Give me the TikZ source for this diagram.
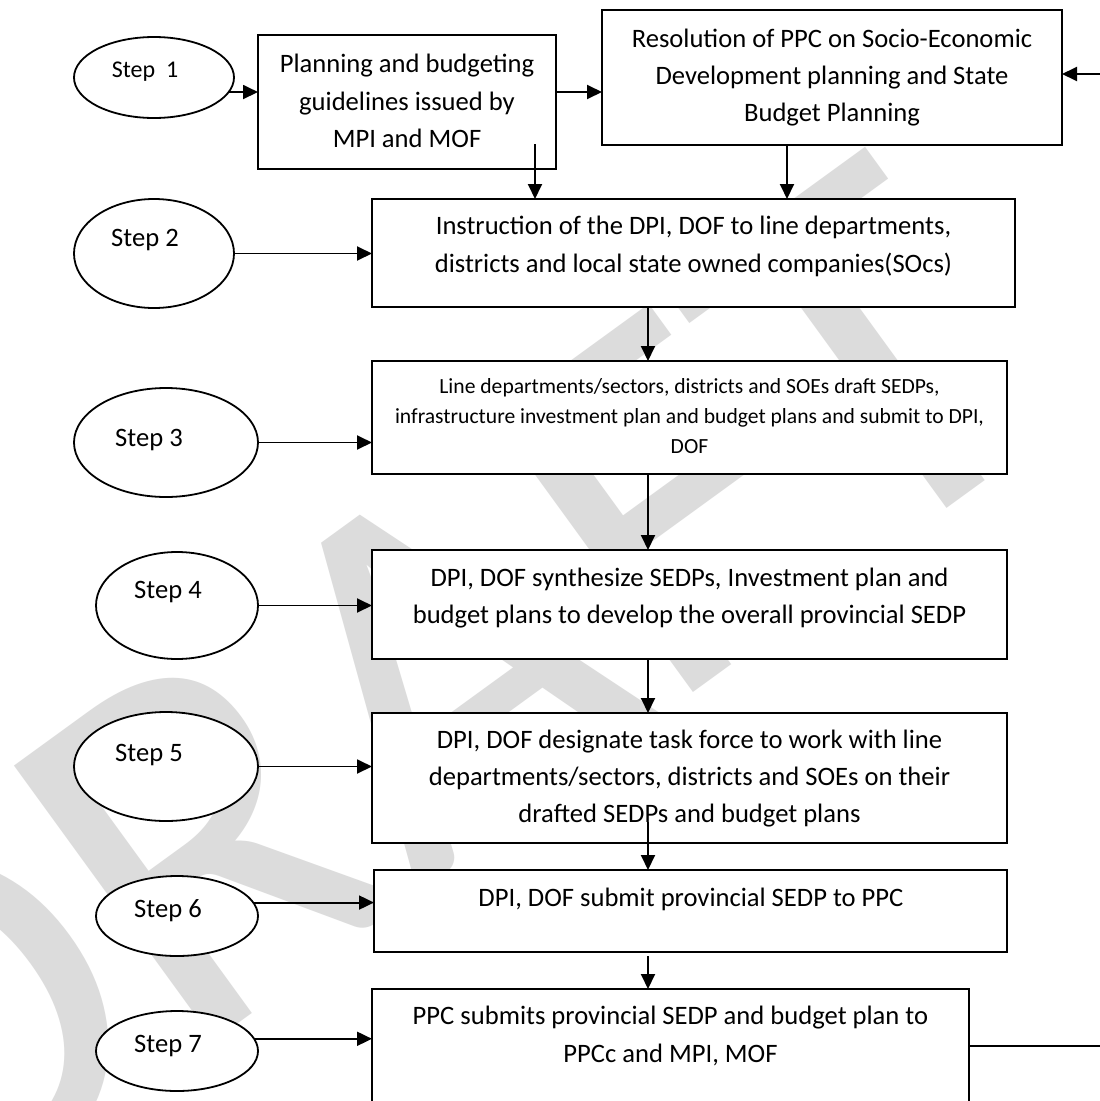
\documentclass[tikz,border=0pt]{standalone}
\usepackage{fontspec}
\setmainfont{Carlito}
\usetikzlibrary{arrows.meta,shapes.geometric,calc}
\definecolor{wmgray}{RGB}{220,220,220}
\begin{document}
\begin{tikzpicture}[x=1pt,y=-1pt,
  box/.style={draw, fill=white, line width=2pt, inner sep=0pt, outer sep=0pt},
  ell/.style={ellipse, draw, fill=white, line width=1.8pt, inner sep=0pt, outer sep=0pt},
  txt/.style={align=center, inner sep=0pt, font=\fontsize{26.6}{37.4}\selectfont},
  small/.style={align=center, inner sep=0pt, font=\fontsize{21.6}{30}\selectfont},
  steptxt/.style={inner sep=0pt, font=\fontsize{26.6}{32}\selectfont},
  arr/.style={line width=1.9pt, -{Triangle[length=15pt,width=14pt]}}
]
\useasboundingbox (0,0) rectangle (1100,1101);
\fill[white] (0,0) rectangle (1100,1101);
\clip (0,0) rectangle (1100,1101);

% background watermark
\node[rotate=36, anchor=base west, text=wmgray, inner sep=0pt, font=\fontsize{530}{530}\selectfont] (wm) at (-80,1255) {DRAFT};

% process boxes
\node[box, minimum width=298pt, minimum height=134pt] (b1) at (407,102) {};
\node[box, minimum width=460pt, minimum height=135pt] (res) at (832,77.5) {};
\node[box, minimum width=643pt, minimum height=108pt] (b2) at (693.5,253) {};
\node[box, minimum width=635pt, minimum height=113pt] (b3) at (689.5,417.5) {};
\node[box, minimum width=635pt, minimum height=109pt] (b4) at (689.5,604.5) {};
\node[box, minimum width=635pt, minimum height=130pt] (b5) at (689.5,778) {};
\node[box, minimum width=633pt, minimum height=82pt] (b6) at (690.5,911) {};
\node[box, minimum width=597pt, minimum height=136pt] (b7) at (670.5,1057) {};

% box texts
\node[txt] (b1t) at (407,101) {Planning and budgeting\\guidelines issued by\\MPI and MOF};
\node[txt] (rest) at (832,77.5) {Resolution of PPC on Socio-Economic\\Development planning and State\\Budget Planning};
\node[txt] (b2t) at (693.5,246.5) {Instruction of the DPI, DOF to line departments,\\districts and local state owned companies(SOcs)};
\node[small] (b3t) at (689.5,416) {Line departments/sectors, districts and SOEs draft SEDPs,\\infrastructure investment plan and budget plans and submit to DPI,\\DOF};
\node[txt] (b4t) at (689.5,598) {DPI, DOF synthesize SEDPs, Investment plan and\\budget plans to develop the overall provincial SEDP};
\node[txt] (b5t) at (689.5,778.5) {DPI, DOF designate task force to work with line\\departments/sectors, districts and SOEs on their\\drafted SEDPs and budget plans};
\node[txt] (b6t) at (691,899) {DPI, DOF submit provincial SEDP to PPC};
\node[txt] (b7t) at (670.5,1036) {PPC submits provincial SEDP and budget plan to\\PPCc and MPI, MOF};

% step ellipses
\node[ell, minimum width=160pt, minimum height=81pt] (e1) at (154,77.5) {};
\node[ell, minimum width=160pt, minimum height=109pt] (e2) at (154,253.5) {};
\node[ell, minimum width=184pt, minimum height=109pt] (e3) at (166,442.5) {};
\node[ell, minimum width=162pt, minimum height=107pt] (e4) at (177,605.5) {};
\node[ell, minimum width=184pt, minimum height=109pt] (e5) at (166,766.5) {};
\node[ell, minimum width=162pt, minimum height=80pt] (e6) at (177,916) {};
\node[ell, minimum width=162pt, minimum height=80pt] (e7) at (177,1051) {};

\node[steptxt, font=\fontsize{24}{28}\selectfont] (s1) at (145,72) {Step\ \ 1};
\node[steptxt] (s2) at (145,240) {Step 2};
\node[steptxt] (s3) at (149,440) {Step 3};
\node[steptxt] (s4) at (168,592) {Step 4};
\node[steptxt] (s5) at (149,755) {Step 5};
\node[steptxt] (s6) at (168,911) {Step 6};
\node[steptxt] (s7) at (168,1046) {Step 7};

% step arrows
\draw[arr] (e1.-11.4) -- (e1.-11.4 -| b1.west);
\draw[arr] (e2.east) -- (e2.east -| b2.west);
\draw[arr] (e3.east) -- (e3.east -| b3.west);
\draw[arr] (e4.east) -- (e4.east -| b4.west);
\draw[arr] (e5.east) -- (e5.east -| b5.west);
\draw[arr] (e6.10.4) -- (e6.10.4 -| b6.west);
\draw[arr] (e7.9.6) -- (e7.9.6 -| b7.west);

% connector end points
\coordinate (spine) at (648,0);
\coordinate (outer) at (1130,0);
\coordinate (b1r) at ($(b1.east)+(0,-10)$);
\coordinate (b1d) at ($(b1.south east)+(-21,-25)$);
\coordinate (resd) at ($(res.south)+(-45,0)$);
\coordinate (b5d) at ($(b5.south -| spine)+(0,-21)$);
\coordinate (b6d) at ($(b6.south -| spine)+(0,4)$);
\coordinate (b7r) at ($(b7.east)+(0,-11)$);
\coordinate (resr) at ($(res.east)+(0,-3.5)$);

% flow between boxes
\draw[arr] (b1r) -- (b1r -| res.west);
\draw[arr] (b1d) -- (b1d |- b2.north);
\draw[arr] (resd) -- (resd |- b2.north);
\draw[arr] (b2.south -| spine) -- (b3.north -| spine);
\draw[arr] (b3.south -| spine) -- (b4.north -| spine);
\draw[arr] (b4.south -| spine) -- (b5.north -| spine);
\draw[arr] (b5d) -- (b6.north -| spine);
\draw[arr] (b6d) -- (b7.north -| spine);
\draw[arr] (b7r) -- (b7r -| outer) |- (resr);
\end{tikzpicture}
\end{document}
